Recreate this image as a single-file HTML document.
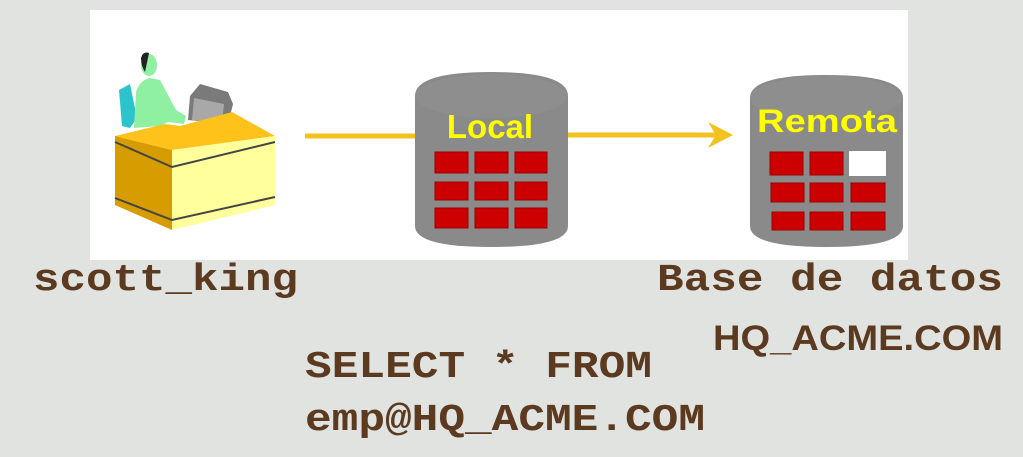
<!DOCTYPE html>
<html><head><style>
html,body{margin:0;padding:0;background:#e1e3e1;}
svg{display:block}
</style></head><body>
<svg width="1023" height="457" viewBox="0 0 1023 457" xmlns="http://www.w3.org/2000/svg">
<rect width="1023" height="457" fill="#e1e3e1"/>
<rect x="90" y="10" width="818" height="250" fill="#ffffff"/>

<!-- person at desk -->
<g>
  <!-- chair -->
  <path d="M119 90 L130 84 L137 118 L130 128 L122 126 Z" fill="#2cc4cc"/>
  <!-- body -->
  <path d="M134 128 L136 92 Q140 80 150 78 L160 80 Q168 95 176 110 L186 116 L184 124 L168 122 L160 126 Z" fill="#8ef0a0"/>
  <ellipse cx="149" cy="65" rx="8" ry="11" fill="#8ef0a0"/>
  <path d="M141 58 Q143 51 149 53 L145 72 Q141 66 141 58 Z" fill="#222"/>
  <!-- monitor -->
  <path d="M190 96 L200 84 L228 92 L233 104 L228 124 L188 120 Z" fill="#7a7a7a"/>
  <path d="M194 98 L224 104 L222 124 L192 120 Z" fill="#a8a8a8"/>
  <!-- keyboard/base -->
  <path d="M158 130 L200 122 L235 126 L235 138 L200 144 Z" fill="#cfcfcf"/>
  <!-- desk top -->
  <path d="M115 136 L165 124 L180 126 L232 112 L275 136 L172 150 Z" fill="#ffc21a"/>
  <!-- desk left side -->
  <path d="M115 136 L172 150 L172 230 L115 205 Z" fill="#d79c00"/>
  <!-- desk front -->
  <path d="M172 150 L275 136 L275 205 L172 230 Z" fill="#ffff9c"/>
  <path d="M115 142 L172 167 L275 142" stroke="#444" stroke-width="2" fill="none"/>
  <path d="M115 198 L172 220 L275 197" stroke="#444" stroke-width="2" fill="none"/>
</g>

<!-- connector line -->
<line x1="305" y1="136" x2="415" y2="136" stroke="#f2c21e" stroke-width="5"/>
<line x1="568" y1="135" x2="728" y2="135" stroke="#f2c21e" stroke-width="5"/>
<path d="M708 122 L733 135 L708 148 L716 135 Z" fill="#f2c21e"/>

<!-- Local cylinder -->
<g>
  <path d="M415 96 Q415 72 491 72 Q568 72 568 96 L568 226 Q568 247 491 247 Q415 247 415 226 Z" fill="#8a8a8a"/>
  <ellipse cx="491" cy="96" rx="76" ry="22" fill="#8e8e8e"/>
  <text x="490" y="138" text-anchor="middle" font-family="Liberation Sans, sans-serif" font-weight="bold" font-size="33" fill="#ffff00">Local</text>
  <g fill="#cc0000" stroke="#a00000" stroke-width="1">
    <rect x="435" y="152" width="33" height="21"/><rect x="475" y="152" width="33" height="21"/><rect x="515" y="152" width="32" height="21"/>
    <rect x="435" y="182" width="33" height="18"/><rect x="475" y="182" width="33" height="18"/><rect x="515" y="182" width="32" height="18"/>
    <rect x="435" y="208" width="33" height="20"/><rect x="475" y="208" width="33" height="20"/><rect x="515" y="208" width="32" height="20"/>
  </g>
</g>

<!-- Remota cylinder -->
<g>
  <path d="M750 98 Q750 75 826 75 Q903 75 903 98 L903 226 Q903 247 826 247 Q750 247 750 226 Z" fill="#8a8a8a"/>
  <ellipse cx="826" cy="98" rx="76" ry="22" fill="#8e8e8e"/>
  <text x="827" y="132" text-anchor="middle" font-family="Liberation Sans, sans-serif" font-weight="bold" font-size="32" fill="#ffff00" textLength="140" lengthAdjust="spacingAndGlyphs">Remota</text>
  <g fill="#cc0000" stroke="#a00000" stroke-width="1">
    <rect x="770" y="152" width="33" height="23"/><rect x="810" y="152" width="33" height="23"/>
    <rect x="771" y="183" width="33" height="19"/><rect x="810" y="183" width="33" height="19"/><rect x="851" y="183" width="34" height="19"/>
    <rect x="772" y="212" width="32" height="18"/><rect x="810" y="212" width="33" height="18"/><rect x="851" y="212" width="34" height="18"/>
  </g>
  <rect x="849" y="151" width="37" height="25" fill="#ffffff"/>
</g>

<!-- texts -->
<g font-family="Liberation Mono, monospace" font-weight="bold" font-size="38" fill="#5b3a20">
  <text x="33" y="290" textLength="265" lengthAdjust="spacingAndGlyphs">scott_king</text>
  <text x="657" y="290" textLength="346" lengthAdjust="spacingAndGlyphs">Base de datos</text>
  <text x="305" y="377" textLength="347" lengthAdjust="spacingAndGlyphs">SELECT * FROM</text>
  <text x="305" y="430" textLength="400" lengthAdjust="spacingAndGlyphs">emp@HQ_ACME.COM</text>
</g>
<text x="713" y="350" font-family="Liberation Sans, sans-serif" font-weight="bold" font-size="35" fill="#5b3a20" textLength="290" lengthAdjust="spacingAndGlyphs">HQ_ACME.COM</text>
</svg>
</body></html>
